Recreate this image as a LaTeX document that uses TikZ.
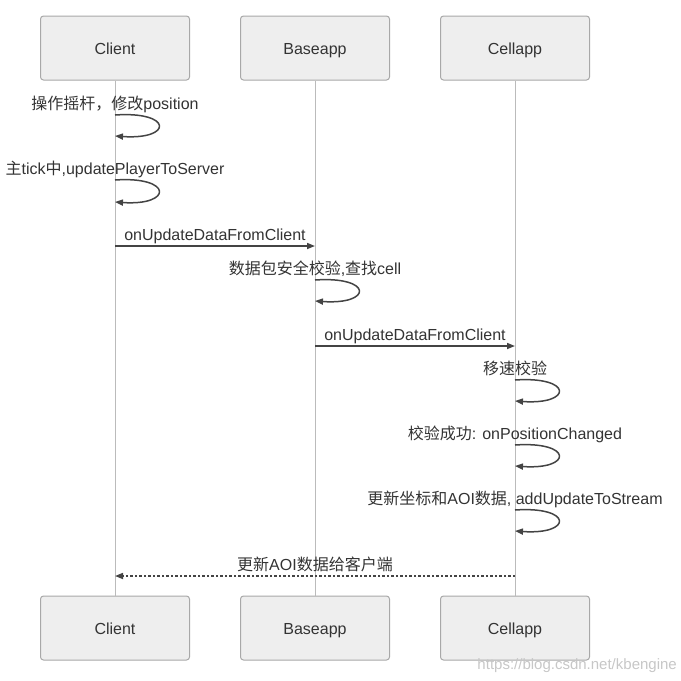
\documentclass[tikz,border=0pt]{standalone}
\usepackage{fontspec}
\setmainfont{Liberation Sans}
\newfontfamily\cjk{Noto Sans CJK SC}
\usetikzlibrary{arrows.meta}
\definecolor{boxfill}{HTML}{EEEEEE}
\definecolor{boxdraw}{HTML}{A8A8A8}
\definecolor{life}{HTML}{BBBBBB}
\definecolor{msg}{HTML}{444444}
\definecolor{txt}{HTML}{333333}
\begin{document}
\begin{tikzpicture}[x=1pt,y=-1pt,
  actor/.style={draw=boxdraw, fill=boxfill, rounded corners=3pt, minimum width=149pt, minimum height=64pt, inner sep=0pt, font=\fontsize{16}{19}\selectfont, text=txt, line width=1pt, text height=12pt, text depth=0pt},
  lbl/.style={font=\fontsize{16}{19}\selectfont, text=txt, inner sep=0pt, anchor=base},
  lifeline/.style={draw=life, line width=1pt},
  msgline/.style={draw=msg, line width=1.6pt, -{Triangle[length=8pt,width=6pt]}},
  retline/.style={draw=msg, line width=1.6pt, dash pattern=on 2.5pt off 2pt, -{Triangle[length=8pt,width=6pt]}},
  selfloop/.style={draw=msg, line width=1.5pt, -{Triangle[length=8pt,width=6pt]}},
]
\useasboundingbox (0,0) rectangle (681,681);
% actors
\node[actor] (ct) at (115,48) {Client};
\node[actor] (bt) at (315,48) {Baseapp};
\node[actor] (et) at (515,48) {Cellapp};
\node[actor] (cb) at (115,628) {Client};
\node[actor] (bb) at (315,628) {Baseapp};
\node[actor] (eb) at (515,628) {Cellapp};
% lifelines
\draw[lifeline] (ct.south) -- (cb.north);
\draw[lifeline] (bt.south) -- (bb.north);
\draw[lifeline] (et.south) -- (eb.north);
% coordinates
\coordinate (c1a) at (115,115); \coordinate (c1b) at (115,136);
\coordinate (c2a) at (115,180); \coordinate (c2b) at (115,202);
\coordinate (m1a) at (115,246); \coordinate (m1b) at (315,246);
\coordinate (b1a) at (315,280); \coordinate (b1b) at (315,301);
\coordinate (m2a) at (315,346); \coordinate (m2b) at (515,346);
\coordinate (e1a) at (515,380); \coordinate (e1b) at (515,401);
\coordinate (e2a) at (515,445); \coordinate (e2b) at (515,466);
\coordinate (e3a) at (515,510); \coordinate (e3b) at (515,531);
\coordinate (r1a) at (515,576); \coordinate (r1b) at (115,576);
% self loops
\draw[selfloop] (c1a) .. controls +(58,-4) and +(58,4) .. (c1b);
\draw[selfloop] (c2a) .. controls +(58,-4) and +(58,4) .. (c2b);
\draw[selfloop] (b1a) .. controls +(58,-4) and +(58,4) .. (b1b);
\draw[selfloop] (e1a) .. controls +(58,-4) and +(58,4) .. (e1b);
\draw[selfloop] (e2a) .. controls +(58,-4) and +(58,4) .. (e2b);
\draw[selfloop] (e3a) .. controls +(58,-4) and +(58,4) .. (e3b);
% messages
\draw[msgline] (m1a) -- (m1b);
\draw[msgline] (m2a) -- (m2b);
\draw[retline] (r1a) -- (r1b);
% labels
\node[lbl] (l1) at (115,109) {{\cjk 操作摇杆，修改}position};
\node[lbl] (l2) at (115,174) {{\cjk 主}tick{\cjk 中},updatePlayerToServer};
\node[lbl] (l3) at (215,240) {onUpdateDataFromClient};
\node[lbl] (l4) at (315,274) {{\cjk 数据包安全校验},{\cjk 查找}cell};
\node[lbl] (l5) at (415,340) {onUpdateDataFromClient};
\node[lbl] (l6) at (515,374) {\cjk 移速校验};
\node[lbl] (l7) at (515,439) {{\cjk 校验成功}: onPositionChanged};
\node[lbl] (l8) at (515,504) {{\cjk 更新坐标和}AOI{\cjk 数据}, addUpdateToStream};
\node[lbl] (l9) at (315,570) {{\cjk 更新}AOI{\cjk 数据给客户端}};
% watermark
\node[font=\fontsize{15}{18}\selectfont, text=black!22, inner sep=0pt, anchor=base east] (wm) at (677,669) {https://blog.csdn.net/kbengine};
\end{tikzpicture}
\end{document}
